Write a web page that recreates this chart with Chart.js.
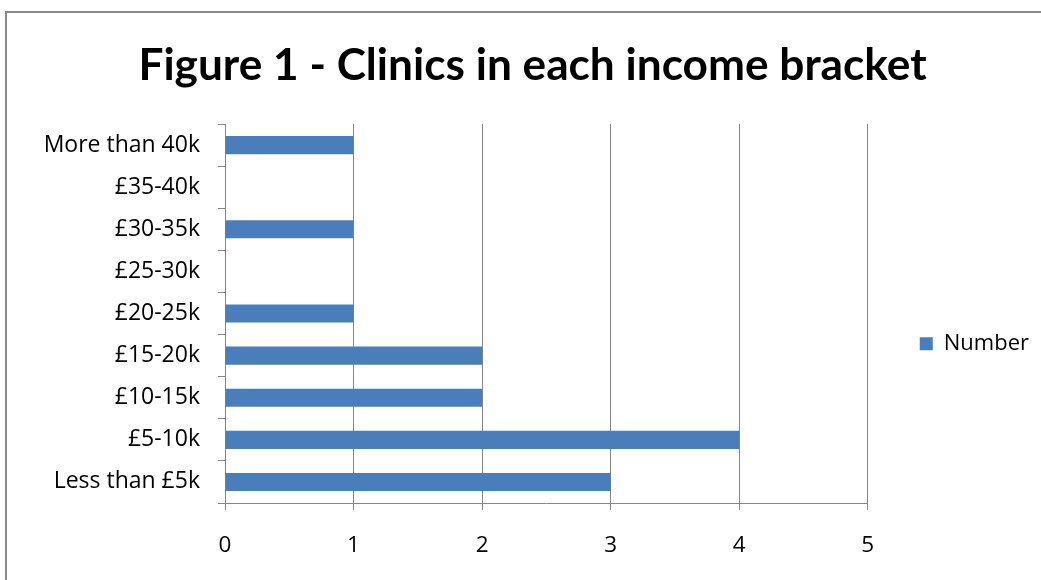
<!DOCTYPE html>
<html>
<head>
<meta charset="utf-8">
<script src="https://cdn.jsdelivr.net/npm/chart.js@4.4.1/dist/chart.umd.min.js"></script>
<style>
  html, body { margin: 0; padding: 0; background: #ffffff; overflow: hidden; }
  #wrap { position: relative; width: 1041px; height: 580px; }
  #frame { position: absolute; left: 5px; top: 11px; width: 1100px; height: 700px;
           border: 2px solid #898989; box-sizing: border-box; }
  canvas { position: absolute; left: 0; top: 0; }
</style>
</head>
<body>
<div id="wrap">
  <div id="frame"></div>
  <canvas id="c" width="1041" height="580"></canvas>
</div>
<script>
// ---- data ----
const categories = ['Less than £5k', '£5-10k', '£10-15k', '£15-20k', '£20-25k', '£25-30k', '£30-35k', '£35-40k', 'More than 40k'];
const seriesName = 'Number';
const values = [3, 4, 2, 2, 1, 0, 1, 0, 1];
const xTickLabels = ['0', '1', '2', '3', '4', '5'];
const titleText = 'Figure 1 - Clinics in each income bracket';

function draw() {
  const tickFont = "'Open Sans', 'Noto Sans', sans-serif";
  const padLeft = 26;
  new Chart(document.getElementById('c'), {
    type: 'bar',
    data: {
      labels: categories,
      datasets: [{
        label: seriesName,
        data: values,
        backgroundColor: '#4A7EBB',
        borderWidth: 0,
        barPercentage: 0.43,
        categoryPercentage: 1.0
      }]
    },
    options: {
      indexAxis: 'y',
      responsive: false,
      animation: false,
      layout: { padding: { left: padLeft, right: 2, top: 0, bottom: 0 } },
      plugins: {
        title: {
          display: true,
          text: titleText,
          color: '#000000',
          font: { family: "Lato, 'Liberation Sans Narrow', sans-serif", size: 44.2, weight: 'bold', lineHeight: 1.2 },
          padding: { top: 39.5, bottom: 31.5 }
        },
        legend: {
          display: true,
          position: 'right',
          fullSize: false,
          maxWidth: 174,
          title: { display: true, text: ' ', padding: { top: 46, bottom: 0 }, font: { size: 12, lineHeight: 1.2 } },
          labels: {
            boxWidth: 13,
            boxHeight: 13,
            padding: 52,
            color: '#000000',
            font: { family: tickFont, size: 22 }
          }
        },
        tooltip: { enabled: false }
      },
      scales: {
        x: {
          min: 0,
          max: 5,
          ticks: {
            stepSize: 1,
            color: '#000000',
            padding: 22,
            font: { family: tickFont, size: 22.5 },
            callback: (v, i) => xTickLabels[i]
          },
          grid: { color: '#868686', lineWidth: 1, tickLength: 7, drawTicks: true },
          border: { display: true, color: '#868686', width: 1 },
          afterFit: (s) => { s.height = 77; }
        },
        y: {
          reverse: true,
          ticks: {
            color: '#000000',
            padding: 18,
            font: { family: tickFont, size: 23 }
          },
          grid: { display: true, drawOnChartArea: false, drawTicks: true, tickLength: 7, color: '#868686', offset: true },
          border: { display: true, color: '#868686', width: 1 },
          afterFit: (s) => { s.width = 225 - padLeft; }
        }
      }
    }
  });
}

Promise.all([
  document.fonts.load("bold 44px Lato"),
  document.fonts.load("22px 'Open Sans'")
]).then(draw, draw);
</script>
</body>
</html>
